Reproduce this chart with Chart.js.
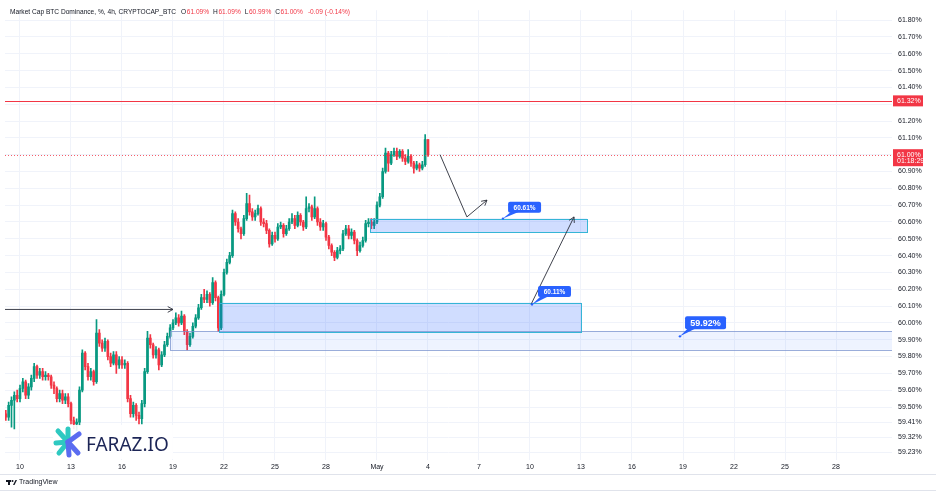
<!DOCTYPE html>
<html>
<head>
<meta charset="utf-8">
<script src="https://cdn.jsdelivr.net/npm/chart.js"></script>
<style>
html, body { margin: 0; padding: 0; background: #ffffff; }
#wrap { width: 936px; height: 492px; position: relative; }
</style>
</head>
<body>
<div id="wrap"><canvas id="btcChart" width="936" height="492"></canvas></div>
<script>
// BTC dominance, 4h candles. x axis counts days from 31 March (so May 1 = 31)
const firstCandleDay = 9 + 4 / 24;
const candleStep = 4 / 24;

const opens = [
  59.46, 59.44, 59.51, 59.54, 59.57, 59.55, 59.61, 59.65, 59.57, 59.62,
  59.67, 59.74, 59.69, 59.71, 59.68, 59.69, 59.68, 59.63, 59.61, 59.55,
  59.58, 59.54, 59.56, 59.52, 59.42, 59.40, 59.41, 59.60, 59.82, 59.74,
  59.68, 59.71, 59.65, 59.94, 59.88, 59.85, 59.89, 59.80, 59.76, 59.81,
  59.75, 59.78, 59.75, 59.76, 59.55, 59.46, 59.51, 59.45, 59.43, 59.52,
  59.71, 59.91, 59.87, 59.81, 59.84, 59.75, 59.81, 59.87, 59.92, 59.97,
  60.00, 60.03, 60.00, 60.04, 59.95, 59.87, 59.92, 59.98, 60.03, 60.09,
  60.15, 60.14, 60.17, 60.12, 60.24, 60.15, 59.97, 60.17, 60.30, 60.36,
  60.40, 60.65, 60.60, 60.56, 60.53, 60.62, 60.71, 60.66, 60.63, 60.65,
  60.68, 60.60, 60.59, 60.55, 60.47, 60.52, 60.50, 60.57, 60.58, 60.53,
  60.56, 60.60, 60.62, 60.58, 60.64, 60.60, 60.57, 60.68, 60.69, 60.63,
  60.68, 60.60, 60.57, 60.59, 60.51, 60.46, 60.42, 60.39, 60.43, 60.44,
  60.53, 60.56, 60.52, 60.54, 60.49, 60.43, 60.46, 60.49, 60.59, 60.60,
  60.58, 60.60, 60.70, 60.75, 60.90, 61.01, 60.95, 61.00, 61.02, 60.99,
  61.02, 60.98, 60.96, 60.99, 60.95, 60.92, 60.94, 60.92, 60.94, 61.09
];
const highs = [
  59.48, 59.53, 59.56, 59.59, 59.60, 59.63, 59.67, 59.66, 59.64, 59.69,
  59.76, 59.75, 59.73, 59.73, 59.71, 59.70, 59.69, 59.65, 59.62, 59.60,
  59.60, 59.58, 59.58, 59.53, 59.44, 59.43, 59.62, 59.84, 59.83, 59.76,
  59.73, 59.72, 60.02, 59.96, 59.90, 59.91, 59.90, 59.82, 59.83, 59.83,
  59.80, 59.80, 59.78, 59.77, 59.57, 59.53, 59.52, 59.47, 59.54, 59.73,
  59.95, 59.93, 59.88, 59.86, 59.85, 59.83, 59.89, 59.94, 59.99, 60.02,
  60.06, 60.05, 60.07, 60.05, 59.96, 59.94, 60.00, 60.05, 60.11, 60.17,
  60.20, 60.19, 60.18, 60.27, 60.25, 60.16, 60.19, 60.32, 60.38, 60.42,
  60.67, 60.66, 60.62, 60.57, 60.64, 60.77, 60.76, 60.68, 60.67, 60.70,
  60.69, 60.62, 60.61, 60.56, 60.54, 60.54, 60.59, 60.60, 60.59, 60.58,
  60.62, 60.65, 60.64, 60.66, 60.65, 60.61, 60.75, 60.71, 60.70, 60.75,
  60.69, 60.62, 60.61, 60.60, 60.52, 60.47, 60.43, 60.45, 60.46, 60.55,
  60.58, 60.58, 60.56, 60.55, 60.50, 60.48, 60.51, 60.61, 60.62, 60.62,
  60.62, 60.72, 60.77, 60.92, 61.04, 61.02, 61.02, 61.04, 61.04, 61.03,
  61.03, 61.00, 61.03, 61.00, 60.96, 60.96, 60.95, 60.96, 61.12, 61.09
];
const lows = [
  59.42, 59.42, 59.38, 59.37, 59.53, 59.53, 59.59, 59.55, 59.55, 59.60,
  59.65, 59.67, 59.67, 59.66, 59.66, 59.66, 59.61, 59.58, 59.53, 59.53,
  59.52, 59.52, 59.50, 59.40, 59.37, 59.36, 59.39, 59.59, 59.72, 59.66,
  59.66, 59.63, 59.64, 59.86, 59.83, 59.83, 59.78, 59.74, 59.75, 59.70,
  59.73, 59.73, 59.73, 59.53, 59.44, 59.44, 59.42, 59.40, 59.40, 59.50,
  59.70, 59.85, 59.79, 59.79, 59.72, 59.74, 59.80, 59.86, 59.91, 59.96,
  59.99, 59.98, 59.99, 59.93, 59.84, 59.86, 59.91, 59.97, 60.02, 60.08,
  60.12, 60.12, 60.10, 60.11, 60.13, 59.95, 59.96, 60.16, 60.29, 60.35,
  60.39, 60.58, 60.54, 60.50, 60.52, 60.61, 60.64, 60.61, 60.61, 60.64,
  60.58, 60.57, 60.53, 60.45, 60.46, 60.48, 60.49, 60.56, 60.51, 60.52,
  60.55, 60.59, 60.56, 60.57, 60.58, 60.55, 60.56, 60.66, 60.61, 60.62,
  60.58, 60.55, 60.55, 60.49, 60.44, 60.40, 60.37, 60.38, 60.41, 60.43,
  60.52, 60.50, 60.50, 60.47, 60.40, 60.42, 60.45, 60.48, 60.57, 60.56,
  60.56, 60.59, 60.69, 60.74, 60.89, 60.90, 60.94, 60.99, 60.97, 60.98,
  60.96, 60.94, 60.95, 60.93, 60.89, 60.91, 60.90, 60.91, 60.93, 60.99
];
const closes = [
  59.44, 59.51, 59.54, 59.57, 59.55, 59.61, 59.65, 59.57, 59.62, 59.67,
  59.74, 59.69, 59.71, 59.68, 59.69, 59.68, 59.63, 59.61, 59.55, 59.58,
  59.54, 59.56, 59.52, 59.42, 59.40, 59.41, 59.60, 59.82, 59.74, 59.68,
  59.71, 59.65, 59.94, 59.88, 59.85, 59.89, 59.80, 59.76, 59.81, 59.75,
  59.78, 59.75, 59.76, 59.55, 59.46, 59.51, 59.45, 59.43, 59.52, 59.71,
  59.91, 59.87, 59.81, 59.84, 59.75, 59.81, 59.87, 59.92, 59.97, 60.00,
  60.03, 60.00, 60.04, 59.95, 59.87, 59.92, 59.98, 60.03, 60.09, 60.15,
  60.14, 60.17, 60.12, 60.24, 60.15, 59.97, 60.17, 60.30, 60.36, 60.40,
  60.65, 60.60, 60.56, 60.53, 60.62, 60.71, 60.66, 60.63, 60.65, 60.68,
  60.60, 60.59, 60.55, 60.47, 60.52, 60.50, 60.57, 60.58, 60.53, 60.56,
  60.60, 60.62, 60.58, 60.64, 60.60, 60.57, 60.68, 60.69, 60.63, 60.68,
  60.60, 60.57, 60.59, 60.51, 60.46, 60.42, 60.39, 60.43, 60.44, 60.53,
  60.56, 60.52, 60.54, 60.49, 60.43, 60.46, 60.49, 60.59, 60.60, 60.58,
  60.60, 60.70, 60.75, 60.90, 61.01, 60.95, 61.00, 61.02, 60.99, 61.02,
  60.98, 60.96, 60.99, 60.95, 60.92, 60.94, 60.92, 60.94, 61.09, 61.00
];

const yTicks = [61.80, 61.70, 61.60, 61.50, 61.40, 61.30, 61.20, 61.10, 61.00, 60.90,
  60.80, 60.70, 60.60, 60.50, 60.40, 60.30, 60.20, 60.10, 60.00, 59.90,
  59.80, 59.70, 59.60, 59.50, 59.41, 59.32, 59.23];
const xTickDays = [10, 13, 16, 19, 22, 25, 28, 31, 34, 37, 40, 43, 46, 49, 52, 55, 58];
const xTickLabels = ['10', '13', '16', '19', '22', '25', '28', 'May', '4', '7', '10', '13', '16', '19', '22', '25', '28'];

const resistance = 61.32;
const lastPrice = 61.00;
const countdown = '01:18:29';
const changeText = '-0.09 (-0.14%)';

// drawings on the chart, in [day, value]
const zones = [
  { from: 18.82, to: null, top: 59.95, bottom: 59.84, fill: 'rgba(41,98,255,0.08)', line: 'rgba(120,145,205,0.75)' },
  { from: 21.71, to: 43.0, top: 60.12, bottom: 59.95, fill: 'rgba(41,98,255,0.22)', line: '#35b5d6' },
  { from: 30.59, to: 43.35, top: 60.62, bottom: 60.54, fill: 'rgba(41,98,255,0.22)', line: '#35b5d6' }
];
const arrows = [
  [[9.118, 60.08], [19.0, 60.08]],
  [[34.71, 61.00], [36.29, 60.63], [37.47, 60.73]],
  [[40.06, 60.11], [42.59, 60.63]]
];
const callouts = [
  { text: '60.61%', at: [38.41, 60.62], box: [38.71, 60.72], w: 33, h: 11, size: 6.5 },
  { text: '60.11%', at: [40.12, 60.11], box: [40.47, 60.22], w: 33, h: 11, size: 6.5 },
  { text: '59.92%', at: [48.82, 59.92], box: [49.12, 60.04], w: 41, h: 13, size: 9 }
];

const upColor = '#089981';
const downColor = '#f23645';
const textColor = '#131722';
const fontFamily = '"Liberation Sans", Arial, sans-serif';

const times = closes.map((c, i) => firstCandleDay + i * candleStep);
const candleColors = closes.map((c, i) => (c >= opens[i] ? upColor : downColor));

function arrowHead(ctx, x1, y1, x2, y2) {
  const ang = Math.atan2(y2 - y1, x2 - x1);
  const len = 6;
  ctx.beginPath();
  ctx.moveTo(x2 - len * Math.cos(ang - 0.5), y2 - len * Math.sin(ang - 0.5));
  ctx.lineTo(x2, y2);
  ctx.lineTo(x2 - len * Math.cos(ang + 0.5), y2 - len * Math.sin(ang + 0.5));
  ctx.stroke();
}

function roundRect(ctx, x, y, w, h, r) {
  ctx.beginPath();
  ctx.moveTo(x + r, y);
  ctx.arcTo(x + w, y, x + w, y + h, r);
  ctx.arcTo(x + w, y + h, x, y + h, r);
  ctx.arcTo(x, y + h, x, y, r);
  ctx.arcTo(x, y, x + w, y, r);
  ctx.closePath();
}

const drawingsPlugin = {
  id: 'drawings',
  afterDatasetsDraw(chart) {
    const { ctx, chartArea: a, scales: { x, y } } = chart;
    ctx.save();
    ctx.beginPath();
    ctx.rect(a.left, a.top, a.right - a.left, a.bottom - a.top);
    ctx.clip();

    zones.forEach(z => {
      const x1 = x.getPixelForValue(z.from);
      const x2 = z.to === null ? a.right : x.getPixelForValue(z.to);
      const y1 = y.getPixelForValue(z.top);
      const y2 = y.getPixelForValue(z.bottom);
      ctx.fillStyle = z.fill;
      ctx.fillRect(x1, y1, x2 - x1, y2 - y1);
      ctx.strokeStyle = z.line;
      ctx.lineWidth = 1;
      ctx.strokeRect(Math.round(x1) + 0.5, Math.round(y1) + 0.5, Math.round(x2 - x1), Math.round(y2 - y1));
    });

    // resistance (solid) and last price (dotted) lines
    ctx.fillStyle = downColor;
    const yr = Math.round(y.getPixelForValue(resistance));
    ctx.fillRect(a.left, yr, a.right - a.left, 1);
    const yp = Math.round(y.getPixelForValue(lastPrice));
    ctx.fillStyle = 'rgba(242,54,69,0.8)';
    for (let px = Math.round(a.left); px < a.right; px += 3) {
      ctx.fillRect(px, yp, 1, 1);
    }

    ctx.strokeStyle = '#2a2e39';
    ctx.lineWidth = 0.9;
    arrows.forEach(path => {
      const pts = path.map(p => [x.getPixelForValue(p[0]), y.getPixelForValue(p[1])]);
      ctx.beginPath();
      pts.forEach((p, i) => (i ? ctx.lineTo(p[0], p[1]) : ctx.moveTo(p[0], p[1])));
      ctx.stroke();
      const n = pts.length;
      arrowHead(ctx, pts[n - 2][0], pts[n - 2][1], pts[n - 1][0], pts[n - 1][1]);
    });

    callouts.forEach(c => {
      const ax = x.getPixelForValue(c.at[0]);
      const ay = y.getPixelForValue(c.at[1]);
      const bx = x.getPixelForValue(c.box[0]);
      const by = y.getPixelForValue(c.box[1]);
      ctx.fillStyle = '#2962ff';
      ctx.beginPath();
      ctx.moveTo(bx + 3, by + c.h - 1);
      ctx.lineTo(bx + 11, by + c.h - 1);
      ctx.lineTo(ax, ay);
      ctx.closePath();
      ctx.fill();
      roundRect(ctx, bx, by, c.w, c.h, 2);
      ctx.fill();
      ctx.beginPath();
      ctx.arc(ax, ay, 1.2, 0, Math.PI * 2);
      ctx.fill();
      ctx.fillStyle = '#ffffff';
      ctx.font = 'bold ' + c.size + 'px ' + fontFamily;
      ctx.textAlign = 'center';
      ctx.textBaseline = 'middle';
      ctx.fillText(c.text, bx + c.w / 2, by + c.h / 2 + 0.5);
    });
    ctx.restore();
  },
  afterDraw(chart) {
    const { ctx, chartArea: a, scales: { y } } = chart;
    const W = chart.width;
    ctx.save();

    // logo
    ctx.fillStyle = 'rgba(255,255,255,0.9)';
    ctx.fillRect(53, 425, 120, 34);
    ctx.lineCap = 'round';
    ctx.lineWidth = 5;
    const cx = 68, cy = 442;
    ctx.strokeStyle = '#2ec9c1';
    [[-10, -11], [0, -13], [-12, 1], [-9, 11]].forEach(d => {
      ctx.beginPath(); ctx.moveTo(cx, cy); ctx.lineTo(cx + d[0], cy + d[1]); ctx.stroke();
    });
    ctx.strokeStyle = '#5a6cf0';
    [[10, 11], [1, 13], [11, -8]].forEach(d => {
      ctx.beginPath(); ctx.moveTo(cx, cy); ctx.lineTo(cx + d[0], cy + d[1]); ctx.stroke();
    });
    ctx.fillStyle = '#1c2556';
    ctx.font = '19px "Noto Sans", sans-serif';
    ctx.textAlign = 'left';
    ctx.textBaseline = 'alphabetic';
    ctx.fillText('FARAZ.IO', 86, 451);

    // price scale labels
    ctx.font = '7px ' + fontFamily;
    ctx.textAlign = 'left';
    ctx.textBaseline = 'middle';
    const yr = y.getPixelForValue(resistance);
    ctx.fillStyle = downColor;
    ctx.fillRect(a.right + 1, yr - 5.5, 30, 11);
    ctx.fillStyle = '#ffffff';
    ctx.fillText(resistance.toFixed(2) + '%', a.right + 5, yr + 0.5);
    const yp = y.getPixelForValue(lastPrice);
    ctx.fillStyle = downColor;
    ctx.fillRect(a.right + 1, yp - 5.5, 30, 17);
    ctx.fillStyle = '#ffffff';
    ctx.fillText(lastPrice.toFixed(2) + '%', a.right + 5, yp);
    ctx.fillText(countdown, a.right + 5, yp + 6.5);

    // legend line: text pieces with a small gap after each value
    const n = closes.length - 1;
    const parts = [
      ['Market Cap BTC Dominance, %, 4h, CRYPTOCAP_BTC', textColor, 5],
      ['O', textColor, 0.5], [opens[n].toFixed(2) + '%', downColor, 4],
      ['H', textColor, 0.5], [highs[n].toFixed(2) + '%', downColor, 4],
      ['L', textColor, 0.5], [lows[n].toFixed(2) + '%', downColor, 4],
      ['C', textColor, 0.5], [closes[n].toFixed(2) + '%', downColor, 5],
      [changeText, downColor, 0]
    ];
    ctx.font = '6.6px ' + fontFamily;
    let tx = 10;
    parts.forEach(p => {
      ctx.fillStyle = p[1];
      ctx.fillText(p[0], tx, 12);
      tx += ctx.measureText(p[0]).width + p[2];
    });

    // footer
    ctx.strokeStyle = '#e0e3eb';
    ctx.lineWidth = 1;
    ctx.beginPath();
    ctx.moveTo(0, 474.5); ctx.lineTo(W, 474.5);
    ctx.moveTo(0, 490.5); ctx.lineTo(W, 490.5);
    ctx.stroke();
    ctx.fillStyle = textColor;
    ctx.fillRect(6, 480, 5, 2);
    ctx.fillRect(8, 480, 2, 5);
    ctx.beginPath(); ctx.arc(12.5, 481, 1, 0, Math.PI * 2); ctx.fill();
    ctx.beginPath(); ctx.moveTo(13, 485); ctx.lineTo(15.5, 480); ctx.lineTo(17, 480); ctx.lineTo(14.5, 485); ctx.closePath(); ctx.fill();
    ctx.font = '7px ' + fontFamily;
    ctx.fillText('TradingView', 19, 482.5);
    ctx.restore();
  }
};

new Chart(document.getElementById('btcChart'), {
  type: 'bar',
  data: {
    datasets: [
      {
        label: 'wicks',
        data: times.map((t, i) => ({ x: t, y: [lows[i], highs[i]] })),
        backgroundColor: candleColors,
        barThickness: 1,
        grouped: false,
        order: 2
      },
      {
        label: 'bodies',
        data: times.map((t, i) => ({ x: t, y: [opens[i], closes[i]] })),
        backgroundColor: candleColors,
        barThickness: 2,
        minBarLength: 1,
        grouped: false,
        order: 1
      }
    ]
  },
  options: {
    responsive: false,
    animation: false,
    layout: { padding: { left: 5, top: 7, right: 0, bottom: 18 } },
    plugins: { legend: { display: false }, tooltip: { enabled: false } },
    scales: {
      x: {
        type: 'linear',
        min: 9.118,
        max: 61.294,
        offset: false,
        grid: { color: '#f0f3fa', drawTicks: false, offset: false },
        border: { display: false },
        afterBuildTicks: s => { s.ticks = xTickDays.map(v => ({ value: v })); },
        afterFit: s => { s.height = 14; },
        ticks: {
          autoSkip: false,
          maxRotation: 0,
          padding: 3,
          color: textColor,
          font: { family: fontFamily, size: 7 },
          callback: v => xTickLabels[xTickDays.indexOf(v)]
        }
      },
      y: {
        position: 'right',
        min: 59.185,
        max: 61.859,
        grid: { color: '#f0f3fa', drawTicks: false },
        border: { display: false },
        afterBuildTicks: s => { s.ticks = yTicks.map(v => ({ value: v })); },
        afterFit: s => { s.width = 44; },
        ticks: {
          padding: 6,
          color: textColor,
          font: { family: fontFamily, size: 7 },
          callback: v => v.toFixed(2) + '%'
        }
      }
    }
  },
  plugins: [drawingsPlugin]
});
</script>
</body>
</html>
